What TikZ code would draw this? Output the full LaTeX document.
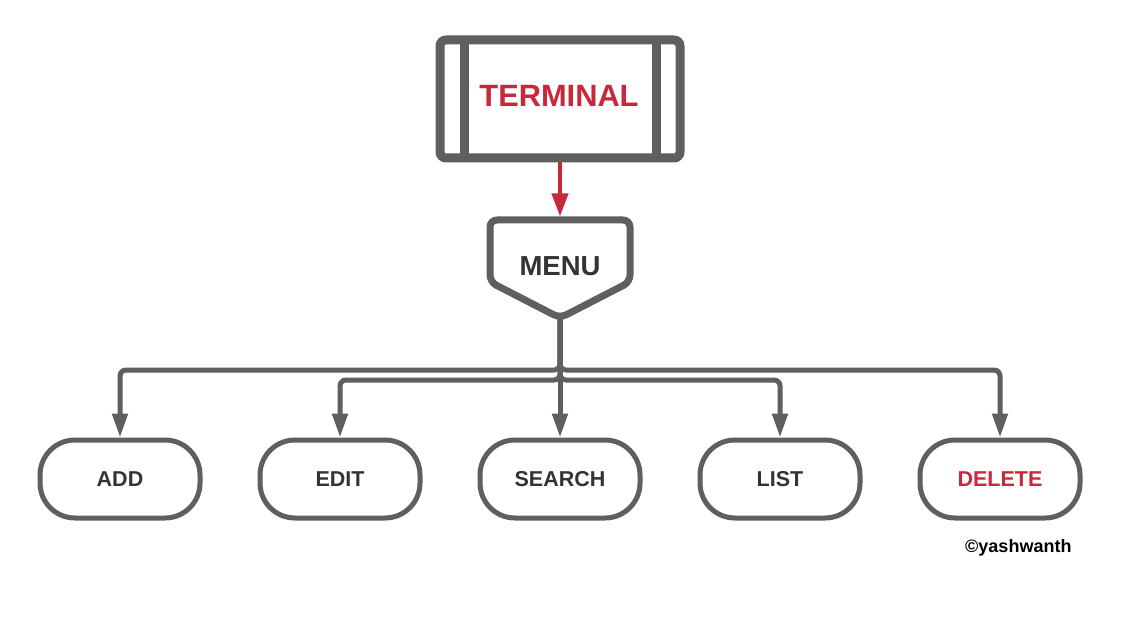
\documentclass[tikz,border=0pt]{standalone}
\usepackage{fontspec}
\setmainfont{Liberation Sans}
\usetikzlibrary{arrows.meta}
\definecolor{lgray}{HTML}{5F5F5F}
\definecolor{tred}{HTML}{C8283A}
\definecolor{tdark}{HTML}{333333}
\tikzset{
  box/.style={draw=lgray, line width=5pt, rounded corners=35pt, minimum width=160pt, minimum height=78pt, inner sep=0pt, font=\fontsize{21.5}{25}\selectfont\bfseries, text=tdark},
  conn/.style={draw=lgray, line width=5pt, rounded corners=6pt, -{Triangle[length=24pt,width=15pt]}},
  redconn/.style={draw=tred, line width=4pt, -{Triangle[length=23pt,width=16pt]}},
}
\begin{document}
\begin{tikzpicture}[x=1pt,y=-1pt]
\useasboundingbox[fill=white] (0,0) rectangle (1140,620);
% terminal
\node[draw=lgray, line width=9pt, rounded corners=6pt, minimum width=240pt, minimum height=118pt, inner sep=0pt] (term) at (560,99) {};
\draw[lgray, line width=9pt] (464,40) -- (464,158);
\draw[lgray, line width=9pt] (656,40) -- (656,158);
\node[text=tred, font=\fontsize{30.8}{36}\selectfont\bfseries, inner sep=0pt] (termlabel) at (559,95.5) {TERMINAL};
% menu
\draw[lgray, line width=7pt, rounded corners=7pt, line join=round] (490,220) -- (630,220) -- (630,282) -- (560,318) -- (490,282) -- cycle;
\coordinate (menutop) at (560,216.5);
\coordinate (menubot) at (560,316);
\node[text=tdark, font=\fontsize{27.5}{32}\selectfont\bfseries, inner sep=0pt] (menulabel) at (560,266.5) {MENU};
\draw[redconn] (term.south) -- (menutop);
% option boxes
\node[box] (add) at (120,479) {ADD};
\node[box] (edit) at (340,479) {EDIT};
\node[box] (search) at (560,479) {SEARCH};
\node[box] (list) at (780,479) {LIST};
\node[box, text=tred] (delete) at (1000,479) {DELETE};
\coordinate (j1) at (560,370);
\coordinate (j2) at (560,380);
\draw[conn] (menubot) -- (j1) -| (add.north);
\draw[conn] (menubot) -- (j1) -| (delete.north);
\draw[conn] (menubot) -- (j2) -| (edit.north);
\draw[conn] (menubot) -- (j2) -| (list.north);
\draw[conn] (menubot) -- (search.north);
\node[anchor=base west, inner sep=0pt, font=\fontsize{18}{22}\selectfont\bfseries, text=black] (copy) at (965,552) {©yashwanth};
\end{tikzpicture}
\end{document}
